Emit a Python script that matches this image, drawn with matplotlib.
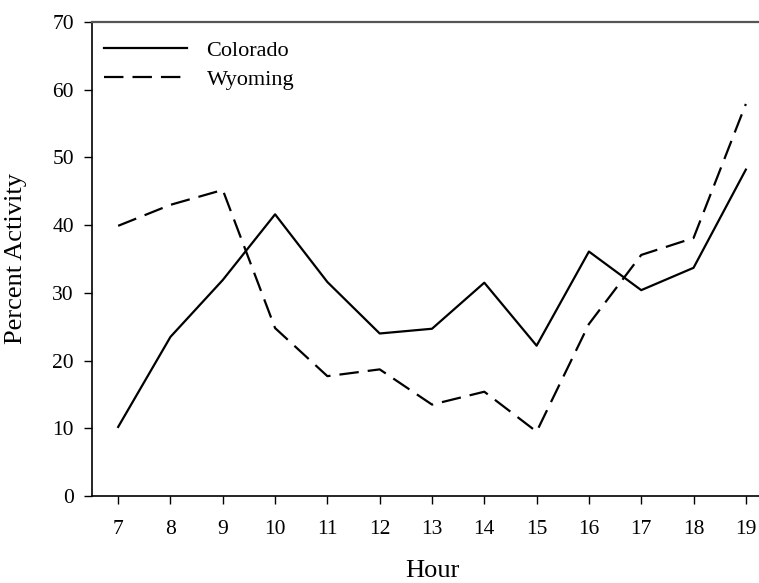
import matplotlib
matplotlib.use("Agg")
import matplotlib.pyplot as plt

hours = [7, 8, 9, 10, 11, 12, 13, 14, 15, 16, 17, 18, 19]
colorado = [10.2, 23.5, 31.9, 41.6, 31.6, 24.0, 24.7, 31.5, 22.2, 36.1, 30.4, 33.7, 48.2]
wyoming = [39.9, 43.0, 45.2, 24.8, 17.7, 18.7, 13.5, 15.4, 9.5, 25.4, 35.6, 38.1, 57.9]
yticks = [0, 10, 20, 30, 40, 50, 60, 70]

plt.rcParams['font.family'] = ['Liberation Serif', 'DejaVu Serif']
plt.rcParams['lines.scale_dashes'] = False

W, H = 759, 583
fig = plt.figure(figsize=(W / 100, H / 100), dpi=100)
ax = fig.add_axes([92 / W, 1 - 496 / H, 680 / W, (496 - 22) / H])

ax.plot(hours, colorado, color='black', lw=1.6, label='Colorado')
ax.plot(hours, wyoming, color='black', lw=1.6, linestyle=(0, (14, 6.5)), label='Wyoming')

ax.set_xlim(6.5, 19.5)
ax.set_ylim(0, 70)
ax.set_xticks(hours)
ax.set_yticks(yticks)
ax.tick_params(axis='both', direction='out', labelsize=15.5, width=1.0, length=6)
ax.tick_params(axis='y', pad=7)
ax.tick_params(axis='x', pad=11)

for s in ['left', 'bottom']:
    ax.spines[s].set_color('black')
    ax.spines[s].set_linewidth(1.2)
for s in ['top', 'right']:
    ax.spines[s].set_color('#555555')
    ax.spines[s].set_linewidth(1.6)

ax.set_ylabel('Percent Activity', fontsize=19, labelpad=18)
ax.set_xlabel('Hour', fontsize=19, labelpad=15.5)

leg = ax.legend(loc='upper left', frameon=False, fontsize=16, handlelength=3.7,
                handletextpad=0.9, labelspacing=0.38, borderpad=0.53, borderaxespad=0.3,
                bbox_to_anchor=(-0.009, 1.0))

fig.savefig('out.png', dpi=100)
